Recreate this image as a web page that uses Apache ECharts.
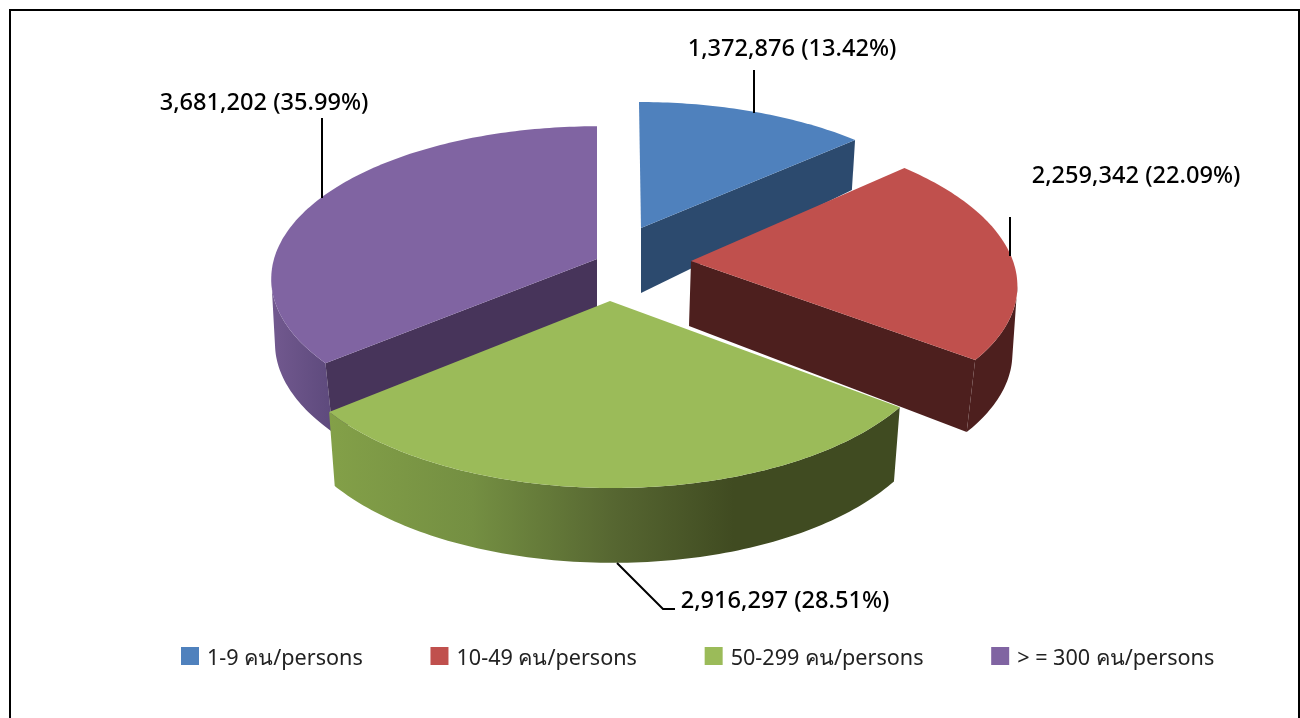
<!DOCTYPE html>
<html>
<head>
<meta charset="utf-8">
<style>html,body{margin:0;padding:0;background:#fff}#c{width:1300px;height:718px}</style>
<script src="https://cdn.jsdelivr.net/npm/echarts@6/dist/echarts.min.js"></script>
</head>
<body>
<div id="c"></div>
<script>
// ---- data ----
var categories = ['1-9 คน/persons', '10-49 คน/persons', '50-299 คน/persons', '> = 300 คน/persons'];
var values = [1372876, 2259342, 2916297, 3681202];

// ---- styles ----
var topColors = ['#4F81BD', '#C0504D', '#9BBB59', '#8064A2'];
var wallColors = ['#2C4A6E', '#4D1F1E', '#404B21', '#47345A'];
var FONT = '"Noto Sans", "DejaVu Sans", sans-serif';

// ---- layout of the tilted, exploded pie (per slice: explosion and perspective) ----
var CX = 640, CY = 265;
var geometry = [
  { ex: 1,   ey: -37, f: 321, g: 147.3, p: 0.169, k: 0.016, apexDepth: 65, apexShift: 0,  d0: 65, d1: 0.17, ds: 0.985,  dsk: 0,       z: 2 },
  { ex: 51,  ey: -4,  f: 322, g: 150.3, p: 0.113, k: 0.11,  apexDepth: 65, apexShift: -2, d0: 72, d1: 0,    ds: 0.989,  dsk: 0.00019, z: 3 },
  { ex: -30, ey: 36,  f: 327, g: 155.4, p: 0.169, k: 0.015, apexDepth: 73, apexShift: 0,  d0: 73, d1: 0.01, ds: 0.98,   dsk: 0,       z: 5 },
  { ex: -43, ey: -6,  f: 323, g: 150,   p: 0.13,  k: 0,     apexDepth: 48, apexShift: 0,  d0: 69, d1: 0,    ds: 0.9915, dsk: 0.000175,z: 4 }
];
var labelAnchors = [[792, 49], [1136, 176], [785, 601], [264, 103]];
var leaders = [
  [[754, 70], [754, 113]],
  [[1010, 217], [1010, 256]],
  [[617, 563], [663, 609], [675, 609]],
  [[322, 118], [322, 198]]
];

var total = values.reduce(function (a, b) { return a + b; }, 0);
var starts = [], acc = 0;
values.forEach(function (v) { starts.push(acc); acc += v; });

function faces(i) {
  var g = geometry[i];
  var ax = CX + g.ex, ay = CY + g.ey;
  function offset(deg) {
    var t = deg * Math.PI / 180, X = Math.sin(t), Y = Math.cos(t), den = 1 + g.p * Y;
    var dy = -g.g * Y / den, dx = g.f * X / den + g.k * dy;
    return [dx, dy];
  }
  function top(deg) { var o = offset(deg); return [ax + o[0], ay + o[1]]; }
  function bottom(deg) {
    var o = offset(deg);
    var scale = g.ds - g.dsk * Math.abs(o[1]);
    return [ax + scale * o[0], ay + o[1] + g.d0 + g.d1 * o[1]];
  }
  // the front of the rim runs between the rightmost and leftmost points of the disc
  var right = 0, left = 0, maxX = -Infinity, minX = Infinity;
  for (var d = 0; d < 360; d++) {
    var x = offset(d)[0];
    if (x > maxX) { maxX = x; right = d; }
    if (x < minX) { minX = x; left = d; }
  }
  return { ax: ax, ay: ay, g: g, top: top, bottom: bottom, front: [right, left] };
}

function sideFill(i) {
  if (i === 2) {
    return new echarts.graphic.LinearGradient(330, 0, 899, 0, [
      { offset: 0, color: '#83A048' },
      { offset: 0.25, color: '#748F42' },
      { offset: 0.5, color: '#566631' },
      { offset: 0.71, color: '#404B21' },
      { offset: 1, color: '#404B21' }
    ], true);
  }
  if (i === 3) {
    return new echarts.graphic.LinearGradient(271, 0, 330, 0, [
      { offset: 0, color: '#72598F' },
      { offset: 1, color: '#5E4A7D' }
    ], true);
  }
  return wallColors[i];
}

function arc(from, to, fn) {
  var pts = [];
  for (var d = from; d < to; d += 1) { pts.push(fn(d)); }
  pts.push(fn(to));
  return pts;
}

function renderSlice(i) {
  return function (params, api) {
    var value = api.value(0);
    var a0 = starts[i] / total * 360, a1 = (starts[i] + value) / total * 360;
    var s = faces(i), children = [];

    // outer rim: only the part on the front of the disc
    var r0 = Math.max(a0, s.front[0]), r1 = Math.min(a1, s.front[1]);
    if (r1 > r0) {
      children.push({ type: 'polygon',
        shape: { points: arc(r0, r1, s.top).concat(arc(r0, r1, s.bottom).reverse()) },
        style: { fill: sideFill(i) }, silent: true });
    }

    // radial wall that faces the viewer
    var apexTop = [s.ax, s.ay];
    var apexBottom = [s.ax + s.g.apexShift, s.ay + s.g.apexDepth];
    var wallDeg = (a1 > 0.5 && a1 < 180) ? a1 : ((a0 > 180 && a0 < 359.5) ? a0 : null);
    if (wallDeg !== null) {
      children.push({ type: 'polygon',
        shape: { points: [apexTop, s.top(wallDeg), s.bottom(wallDeg), apexBottom] },
        style: { fill: wallColors[i] }, silent: true });
    }

    // top face
    children.push({ type: 'polygon', shape: { points: [apexTop].concat(arc(a0, a1, s.top)) },
      style: { fill: topColors[i] }, silent: true });

    // leader line and label
    children.push({ type: 'polyline', shape: { points: leaders[i] },
      style: { fill: null, stroke: '#000', lineWidth: 2 }, silent: true });
    var pct = (value / total * 100).toFixed(2);
    children.push({ type: 'text', silent: true, style: {
      x: labelAnchors[i][0], y: labelAnchors[i][1],
      text: value.toLocaleString('en-US') + ' (' + pct + '%)',
      fill: '#000', font: '500 23.6px ' + FONT, align: 'center', verticalAlign: 'middle'
    } });
    return { type: 'group', children: children };
  };
}

var series = categories.map(function (name, i) {
  return {
    name: name,
    type: 'custom',
    coordinateSystem: 'none',
    z: geometry[i].z,
    animation: false,
    itemStyle: { color: topColors[i] },
    renderItem: renderSlice(i),
    data: [[values[i]]]
  };
});

var chart = echarts.init(document.getElementById('c'), null, { renderer: 'canvas' });
chart.setOption({
  animation: false,
  backgroundColor: '#fff',
  graphic: [{
    type: 'rect', z: 0, silent: true,
    shape: { x: 10, y: 10, width: 1289, height: 760 },
    style: { fill: null, stroke: '#000', lineWidth: 2 }
  }],
  legend: {
    left: 181, top: 647,
    padding: 0,
    // square swatch in the upper part of a taller box, so the text sits a little below its centre
    icon: 'path://M0 0H18V18H0Z M0 24L0 24',
    itemWidth: 18, itemHeight: 24, itemGap: 67.7,
    selectedMode: false,
    data: categories,
    textStyle: { fontFamily: FONT, fontSize: 21.6, color: '#222', padding: [0, 0, 0, 3] }
  },
  series: series
});
</script>
</body>
</html>
